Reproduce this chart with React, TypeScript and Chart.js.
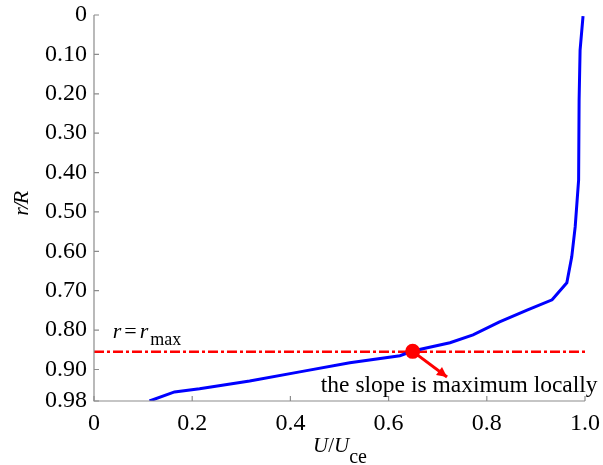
import React, { useEffect, useRef } from "react";
import { Chart, registerables } from "chart.js";

Chart.register(...registerables);

// Velocity profile: U/Uce (x) vs r/R (y, reversed)
const profileU = [0.113, 0.164, 0.215, 0.317, 0.419, 0.521, 0.623, 0.649, 0.725, 0.772, 0.826, 0.882, 0.933, 0.963, 0.973, 0.980, 0.984, 0.987, 0.988, 0.990, 0.996];
const profileR = [0.980, 0.957, 0.949, 0.929, 0.906, 0.883, 0.865, 0.853, 0.832, 0.812, 0.779, 0.749, 0.723, 0.680, 0.614, 0.538, 0.470, 0.419, 0.216, 0.089, 0.003];

const rMaxLine = 0.855;
const rMaxLineU = [0, 1.006];
const peakU = 0.649;
const peakR = 0.854;
const arrowEndU = 0.719;
const arrowEndR = 0.919;

const yTicks = [0, 0.1, 0.2, 0.3, 0.4, 0.5, 0.6, 0.7, 0.8, 0.9, 0.98];
const yTickLabels = ["0", "0.10", "0.20", "0.30", "0.40", "0.50", "0.60", "0.70", "0.80", "0.90", "0.98"];
const xTicks = [0, 0.2, 0.4, 0.6, 0.8, 1.0];
const xTickLabels = ["0", "0.2", "0.4", "0.6", "0.8", "1.0"];

const annotationText = "the slope is maximum locally";
const annotationPos = { u: 0.462, r: 0.957 };
const rmaxLabelPos = { u: 0.038, r: 0.82 };

const SERIF = "'Times New Roman', 'Liberation Serif', 'DejaVu Serif', serif";

export default function App() {
  const ref = useRef<HTMLCanvasElement | null>(null);

  useEffect(() => {
    document.body.style.margin = "0";
    const canvas = ref.current;
    if (!canvas) return;

    const decor = {
      id: "decor",
      afterDraw(chart: any) {
        const ctx = chart.ctx as CanvasRenderingContext2D;
        const { chartArea } = chart;
        const xs = chart.scales.x;
        const ys = chart.scales.y;
        ctx.save();
        // axes
        ctx.strokeStyle = "#8c8c8c";
        ctx.lineWidth = 1.2;
        ctx.beginPath();
        ctx.moveTo(chartArea.left, chartArea.top);
        ctx.lineTo(chartArea.left, chartArea.bottom);
        ctx.lineTo(chartArea.right, chartArea.bottom);
        ctx.stroke();
        // inward ticks
        ctx.beginPath();
        yTicks.forEach((v) => {
          const py = ys.getPixelForValue(v);
          ctx.moveTo(chartArea.left, py);
          ctx.lineTo(chartArea.left + 5, py);
        });
        xTicks.forEach((v) => {
          const px = xs.getPixelForValue(v);
          ctx.moveTo(px, chartArea.bottom);
          ctx.lineTo(px, chartArea.bottom - 5);
        });
        ctx.stroke();

        // arrow head
        const sx = xs.getPixelForValue(peakU);
        const sy = ys.getPixelForValue(peakR);
        const ex = xs.getPixelForValue(arrowEndU);
        const ey = ys.getPixelForValue(arrowEndR);
        const ang = Math.atan2(ey - sy, ex - sx);
        const hl = 10, hw = 5;
        ctx.fillStyle = "#ff0000";
        ctx.beginPath();
        ctx.moveTo(ex, ey);
        ctx.lineTo(ex - hl * Math.cos(ang) + hw * Math.sin(ang), ey - hl * Math.sin(ang) - hw * Math.cos(ang));
        ctx.lineTo(ex - hl * Math.cos(ang) - hw * Math.sin(ang), ey - hl * Math.sin(ang) + hw * Math.cos(ang));
        ctx.closePath();
        ctx.fill();

        // annotation text
        ctx.fillStyle = "#000";
        ctx.textBaseline = "alphabetic";
        ctx.textAlign = "left";
        ctx.font = `23.5px ${SERIF}`;
        ctx.fillText(annotationText, xs.getPixelForValue(annotationPos.u), ys.getPixelForValue(annotationPos.r));

        // r = r_max
        let lx = xs.getPixelForValue(rmaxLabelPos.u);
        const ly = ys.getPixelForValue(rmaxLabelPos.r);
        ctx.font = `italic 22px ${SERIF}`;
        ctx.fillText("r", lx, ly);
        lx += ctx.measureText("r").width + 3;
        ctx.font = `22px ${SERIF}`;
        ctx.fillText("=", lx, ly);
        lx += ctx.measureText("=").width + 3;
        ctx.font = `italic 22px ${SERIF}`;
        ctx.fillText("r", lx, ly);
        lx += ctx.measureText("r").width + 2;
        ctx.font = `18px ${SERIF}`;
        ctx.fillText("max", lx, ly + 7);

        // x title U/U_ce
        let tx = 313;
        const ty = 452;
        ctx.font = `italic 21px ${SERIF}`;
        ctx.fillText("U", tx, ty);
        tx += ctx.measureText("U").width;
        ctx.font = `21px ${SERIF}`;
        ctx.fillText("/", tx, ty);
        tx += ctx.measureText("/").width;
        ctx.font = `italic 21px ${SERIF}`;
        ctx.fillText("U", tx, ty);
        tx += ctx.measureText("U").width;
        ctx.font = `20px ${SERIF}`;
        ctx.fillText("ce", tx, ty + 11);

        // y title r/R
        ctx.save();
        ctx.translate(28, 204);
        ctx.rotate(-Math.PI / 2);
        ctx.font = `italic 22px ${SERIF}`;
        (ctx as any).letterSpacing = "-1.5px";
        const w = ctx.measureText("r/R").width;
        ctx.fillText("r/R", -w / 2, 0);
        ctx.restore();

        ctx.restore();
      },
    };

    const zeroPad = (s: any) => {
      s.paddingTop = 0;
      s.paddingBottom = 0;
      s.paddingLeft = 0;
      s.paddingRight = 0;
    };

    const chart = new Chart(canvas, {
      type: "scatter",
      data: {
        datasets: [
          {
            data: rMaxLineU.map((u) => ({ x: u, y: rMaxLine })),
            showLine: true,
            borderColor: "#ff0000",
            borderWidth: 2.5,
            borderDash: [10, 3, 3, 3],
            pointRadius: 0,
            clip: false,
            order: 4,
          },
          {
            data: profileU.map((u, i) => ({ x: u, y: profileR[i] })),
            showLine: true,
            borderColor: "#0000ff",
            borderWidth: 3,
            pointRadius: 0,
            tension: 0,
            order: 3,
          },
          {
            data: [
              { x: peakU, y: peakR },
              { x: arrowEndU, y: arrowEndR },
            ],
            showLine: true,
            borderColor: "#ff0000",
            borderWidth: 3,
            pointRadius: 0,
            order: 2,
          },
          {
            data: [{ x: peakU, y: peakR }],
            pointRadius: 7.5,
            pointBackgroundColor: "#ff0000",
            pointBorderColor: "#ff0000",
            borderWidth: 0,
            order: 1,
          },
        ],
      },
      options: {
        animation: false,
        responsive: true,
        maintainAspectRatio: false,
        layout: { padding: { top: 15, right: 18, left: 0, bottom: 0 } },
        plugins: { legend: { display: false }, tooltip: { enabled: false } },
        scales: {
          x: {
            type: "linear",
            min: 0,
            max: 1,
            grid: { display: false, drawTicks: false },
            border: { display: false },
            afterFit: (s: any) => {
              s.height = 64;
              zeroPad(s);
            },
            afterBuildTicks: (s: any) => {
              s.ticks = xTicks.map((v) => ({ value: v }));
            },
            ticks: {
              padding: 8,
              color: "#000",
              font: { family: SERIF, size: 24 },
              callback: (v: any) => {
                const i = xTicks.findIndex((t) => Math.abs(t - Number(v)) < 1e-6);
                return i >= 0 ? xTickLabels[i] : "";
              },
            },
          },
          y: {
            type: "linear",
            reverse: true,
            min: 0,
            max: 0.98,
            grid: { display: false, drawTicks: false },
            border: { display: false },
            afterFit: (s: any) => {
              s.width = 94;
              zeroPad(s);
            },
            afterBuildTicks: (s: any) => {
              s.ticks = yTicks.map((v) => ({ value: v }));
            },
            ticks: {
              padding: 7,
              color: "#000",
              font: { family: SERIF, size: 24 },
              callback: (v: any) => {
                const i = yTicks.findIndex((t) => Math.abs(t - Number(v)) < 1e-6);
                return i >= 0 ? yTickLabels[i] : "";
              },
            },
          },
        },
      },
      plugins: [decor],
    });

    return () => chart.destroy();
  }, []);

  return (
    <div style={{ position: "fixed", left: 0, top: 0, width: 603, height: 465 }}>
      <canvas ref={ref} />
    </div>
  );
}
